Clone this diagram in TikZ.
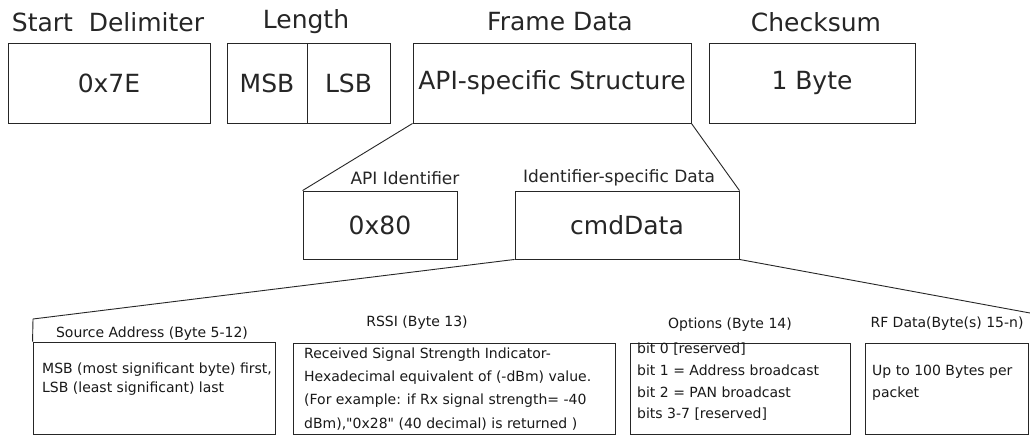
\documentclass[tikz,border=0pt]{standalone}
\usepackage{fontspec}
\setmainfont{DejaVu Sans}
\begin{document}
\begin{tikzpicture}[x=1pt,y=-1pt,
  line/.style={draw=black!85,line width=0.9pt},
  box/.style={line,rectangle,inner sep=0pt,text=black!85},
  big/.style={font=\fontsize{25}{28}\selectfont},
  mid/.style={font=\fontsize{17}{20}\selectfont,text=black!85},
  small/.style={font=\fontsize{14}{17}\selectfont,text=black!90},
  lines/.style={small,align=left,anchor=north west,inner sep=0pt}]
\useasboundingbox (0,0) rectangle (1030,436);
\fill[white] (0,0) rectangle (1030,436);

% frame fields
\node[box,big,minimum width=202pt,minimum height=80pt] (sd)  at (109,83)   {0x7E};
\node[box,big,minimum width=80pt, minimum height=80pt] (msb) at (267,83)   {MSB};
\node[box,big,minimum width=83pt, minimum height=80pt] (lsb) at (348.5,83) {LSB};
\node[box,big,minimum width=278pt,minimum height=80pt] (fd)  at (552,83)   {API-specific Structure};
\node[box,big,minimum width=206pt,minimum height=80pt] (cs)  at (812,83)   {1 Byte};

\node[big,text=black!85] (lsd) at (108,22) {Start\ \ Delimiter};
\node[big,text=black!85] (llen) at (306,22) {Length};
\node[big,text=black!85] (lfd) at (560,22) {Frame Data};
\node[big,text=black!85] (lcs) at (816,22) {Checksum};

% API-specific structure
\node[box,big,minimum width=154pt,minimum height=68pt] (api) at (380,225) {0x80};
\node[box,big,minimum width=224pt,minimum height=68pt] (cmd) at (627,225) {cmdData};
\node[mid] (lapi) at (405,178) {API Identifier};
\node[mid] (lcmd) at (619,178) {Identifier-specific Data};

\draw[line] (fd.south west) -- (api.north west);
\draw[line] (fd.south east) -- (cmd.north east);

% cmdData fields
\coordinate (cl) at (33,319);
\coordinate (cr) at (1030,313);
\draw[line] (cmd.south west) -- (cl);
\draw[line] (cmd.south east) -- (cr);

\node[box,minimum width=242pt,minimum height=92pt] (src)  at (154,388)   {};
\node[box,minimum width=322pt,minimum height=91pt] (rssi) at (454,388.5) {};
\node[box,minimum width=220pt,minimum height=91pt] (opt)  at (740,388.5) {};
\node[box,minimum width=163pt,minimum height=91pt] (rf)   at (946.5,388.5) {};
\draw[line] (cl) -- (src.north west);

\node[small] (lsrc)  at (152,334) {Source Address (Byte 5-12)};
\node[small] (lrssi) at (417,323) {RSSI (Byte 13)};
\node[small] (lopt)  at (730,325) {Options (Byte 14)};
\node[small] (lrf)   at (947,324) {RF Data(Byte(s) 15-n)};

\node[lines,font=\fontsize{14}{19.5}\selectfont] (tsrc) at (42,362.5)
  {MSB (most significant byte) first,\\LSB (least significant) last};
\node[lines,font=\fontsize{14}{23.3}\selectfont] (trssi) at (304,347.5)
  {Received Signal Strength Indicator-\\Hexadecimal equivalent of (-dBm) value.\\(For example: if Rx signal strength= -40\\dBm),\textquotedbl 0x28\textquotedbl{} (40 decimal) is returned )};
\node[lines,font=\fontsize{14}{21.7}\selectfont] (topt) at (637,343)
  {bit 0 [reserved]\\bit 1 = Address broadcast\\bit 2 = PAN broadcast\\bits 3-7 [reserved]};
\node[lines,font=\fontsize{14}{22}\selectfont] (trf) at (872,364.5)
  {Up to 100 Bytes per\\packet};
\end{tikzpicture}
\end{document}
